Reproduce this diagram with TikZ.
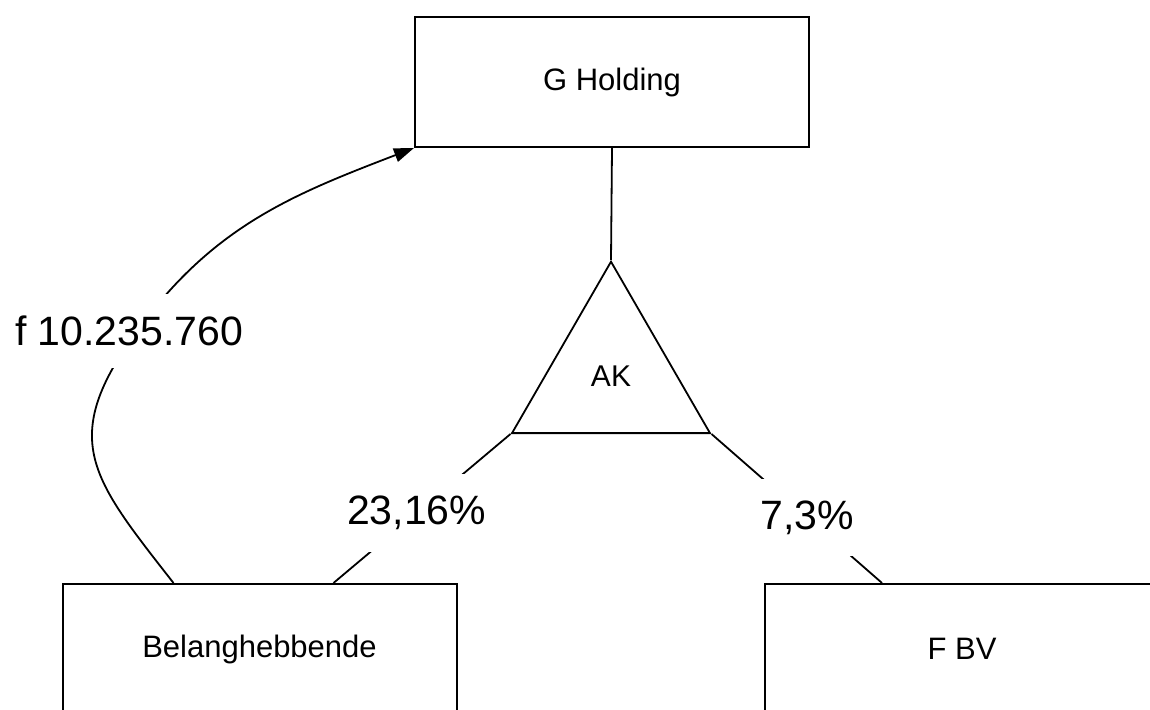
\documentclass[tikz,border=0pt]{standalone}
\usepackage{fontspec}
\setmainfont{Liberation Sans}
\usetikzlibrary{arrows.meta,shapes.geometric}

\begin{document}
\begin{tikzpicture}[
    x=0.5pt, y=0.5pt,
    box/.style={draw, line width=1pt, minimum width=197pt, minimum height=65pt, inner sep=0pt, font=\fontsize{15.5}{18}\selectfont},
    share/.style={draw, regular polygon, regular polygon sides=3, minimum size=114.3pt, inner sep=0pt, line width=0.9pt, font=\fontsize{15}{18}\selectfont},
    link/.style={line width=0.9pt},
    flow/.style={link, -{Triangle[length=10pt,width=7pt]}},
    amount/.style={fill=white, inner xsep=2pt, inner ysep=11pt, font=\fontsize{20.5}{24}\selectfont}]
  \useasboundingbox (0,0) rectangle (1150,710);
  \node[box] (hold) at (612,628) {G Holding};
  \node[share] (ak) at (611,334) {AK};
  \node[box] (bel) at (259.5,61) {Belanghebbende};
  \node[box] (fbv) at (962,61) {F BV};
  \coordinate (via) at (137,379);
  \draw[link] (hold.south) -- (ak.corner 1);
  \draw[link] (ak.corner 2) -- node[amount, pos=0.53] (pbel) {23,16\%} ([xshift=136pt]bel.north west);
  \draw[link] (ak.corner 3) -- node[amount, pos=0.56] (pfbv) {7,3\%} ([xshift=59pt]fbv.north west);
  \draw[flow] ([xshift=56pt]bel.north west) to[out=128, in=234, looseness=1.35] (via)
    to[out=54, in=201] (hold.south west);
  \node[amount] (amt) at ([xshift=-4pt]via) {f 10.235.760};
\end{tikzpicture}
\end{document}
